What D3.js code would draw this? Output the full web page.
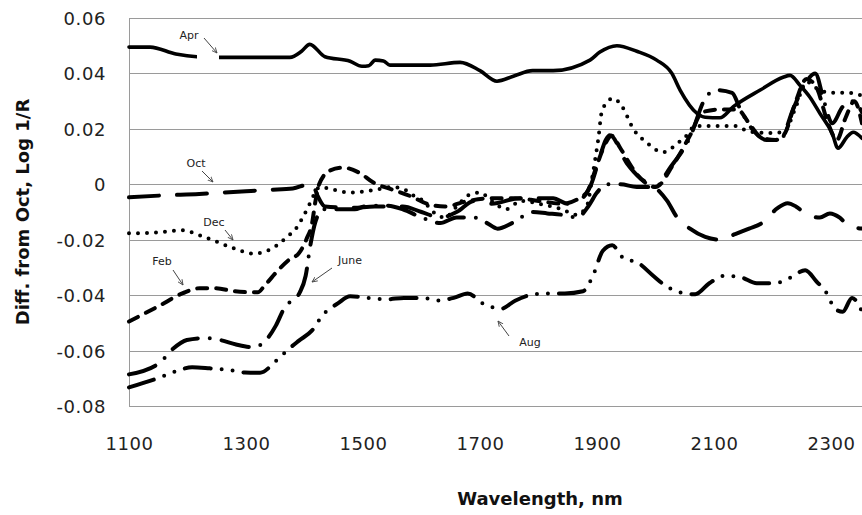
<!DOCTYPE html>
<html>
<head>
<meta charset="utf-8">
<script src="https://cdn.jsdelivr.net/npm/d3@7"></script>
<style>
  html, body { margin: 0; padding: 0; background: #fff; }
  svg { display: block; }
</style>
</head>
<body>
<svg id="chart" width="862" height="515"></svg>
<script>
// ---------------- DATA (wavelength nm, difference from Oct) ----------------
const yTicks = [-0.08, -0.06, -0.04, -0.02, 0, 0.02, 0.04, 0.06];
const xTicks = [1100, 1300, 1500, 1700, 1900, 2100, 2300];

const apr = [[1100,0.0495],[1136,0.0495],[1180,0.047],[1216,0.046],[1252,0.0458],[1300,0.0458],[1375,0.0458],[1395,0.048],[1409,0.0505],[1435,0.046],[1478,0.0444],[1498,0.0426],[1510,0.0428],[1521,0.0448],[1535,0.0445],[1546,0.043],[1615,0.043],[1666,0.044],[1700,0.041],[1729,0.0372],[1757,0.039],[1790,0.041],[1825,0.041],[1888,0.0448],[1905,0.0477],[1934,0.050],[1968,0.048],[2002,0.0448],[2028,0.040],[2042,0.034],[2071,0.0256],[2085,0.0242],[2110,0.024],[2133,0.028],[2179,0.034],[2218,0.0386],[2230,0.0393],[2247,0.0357],[2264,0.0314],[2281,0.0256],[2302,0.0184],[2312,0.013],[2327,0.017],[2338,0.0188],[2353,0.0166]];

const oct = [[1100,-0.0047],[1160,-0.004],[1220,-0.0035],[1260,-0.003],[1300,-0.0025],[1340,-0.002],[1380,-0.0015],[1400,-0.0003],[1413,0.0004],[1422,-0.004],[1435,-0.008],[1480,-0.0085],[1520,-0.008],[1568,-0.008],[1600,-0.010],[1632,-0.012],[1660,-0.010],[1690,-0.006],[1720,-0.007],[1768,-0.005],[1825,-0.005],[1850,-0.007],[1875,-0.005],[1890,0.000],[1905,0.010],[1915,0.016],[1922,0.0177],[1951,0.0076],[1975,0.002],[1999,-0.001],[2020,-0.006],[2037,-0.012],[2059,-0.016],[2085,-0.019],[2110,-0.020],[2136,-0.018],[2160,-0.016],[2184,-0.0137],[2208,-0.0087],[2226,-0.0068],[2240,-0.008],[2256,-0.0105],[2281,-0.012],[2298,-0.0105],[2315,-0.012],[2329,-0.0148],[2353,-0.016]];

const dec = [[1100,-0.0177],[1153,-0.0173],[1190,-0.0166],[1221,-0.0184],[1244,-0.0202],[1278,-0.023],[1312,-0.025],[1329,-0.0245],[1353,-0.022],[1370,-0.019],[1387,-0.0155],[1397,-0.012],[1409,-0.007],[1418,-0.003],[1426,-0.001],[1450,-0.002],[1478,-0.003],[1520,-0.002],[1551,-0.001],[1572,-0.002],[1586,-0.004],[1603,-0.006],[1620,-0.010],[1640,-0.012],[1660,-0.008],[1680,-0.004],[1700,-0.003],[1720,-0.006],[1745,-0.009],[1770,-0.006],[1800,-0.007],[1840,-0.009],[1865,-0.011],[1883,-0.0076],[1893,0.004],[1902,0.016],[1909,0.027],[1928,0.031],[1943,0.028],[1962,0.020],[1985,0.015],[2013,0.0116],[2039,0.015],[2055,0.018],[2067,0.021],[2088,0.021],[2136,0.021],[2160,0.019],[2195,0.0185],[2220,0.019],[2240,0.028],[2258,0.037],[2280,0.034],[2300,0.033],[2330,0.033],[2353,0.032]];

const feb = [[1100,-0.0495],[1153,-0.0437],[1192,-0.0393],[1221,-0.0375],[1247,-0.0375],[1281,-0.0386],[1320,-0.039],[1332,-0.0365],[1355,-0.031],[1375,-0.027],[1390,-0.025],[1404,-0.0195],[1413,-0.014],[1418,-0.007],[1425,0.000],[1444,0.005],[1466,0.006],[1495,0.004],[1517,0.0007],[1551,-0.002],[1586,-0.0047],[1609,-0.007],[1640,-0.008],[1680,-0.006],[1720,-0.005],[1760,-0.005],[1800,-0.006],[1840,-0.007],[1870,-0.005],[1885,-0.002],[1900,0.007],[1915,0.015],[1925,0.0175],[1940,0.013],[1960,0.006],[1980,0.001],[2000,-0.001],[2030,0.007],[2060,0.018],[2080,0.026],[2110,0.027],[2140,0.027],[2160,0.022],[2180,0.017],[2205,0.016],[2220,0.018],[2240,0.030],[2258,0.038],[2275,0.035],[2295,0.022],[2310,0.016],[2325,0.024],[2340,0.030],[2353,0.022]];

const june = [[1100,-0.0686],[1153,-0.0643],[1174,-0.0596],[1199,-0.0562],[1230,-0.0555],[1256,-0.0562],[1283,-0.0578],[1312,-0.0588],[1335,-0.056],[1351,-0.051],[1365,-0.0448],[1392,-0.039],[1402,-0.033],[1410,-0.022],[1418,-0.014],[1432,-0.009],[1460,-0.009],[1486,-0.009],[1503,-0.008],[1540,-0.0077],[1568,-0.009],[1600,-0.012],[1632,-0.014],[1660,-0.012],[1690,-0.012],[1712,-0.014],[1730,-0.016],[1755,-0.014],[1790,-0.010],[1815,-0.0105],[1840,-0.011],[1866,-0.012],[1885,-0.008],[1900,-0.003],[1915,0.000],[1940,0.000],[1968,-0.001],[1999,-0.001],[2025,0.006],[2059,0.017],[2085,0.031],[2103,0.034],[2131,0.033],[2145,0.027],[2165,0.020],[2190,0.016],[2213,0.016],[2235,0.027],[2255,0.036],[2273,0.040],[2288,0.030],[2302,0.022],[2320,0.028],[2338,0.030],[2353,0.026]];

const aug = [[1100,-0.0733],[1153,-0.0697],[1180,-0.0675],[1208,-0.066],[1238,-0.0664],[1270,-0.067],[1298,-0.0679],[1324,-0.068],[1350,-0.064],[1370,-0.060],[1390,-0.0565],[1413,-0.0527],[1432,-0.047],[1457,-0.043],[1478,-0.0404],[1510,-0.041],[1541,-0.0415],[1570,-0.041],[1601,-0.041],[1628,-0.0419],[1655,-0.041],[1679,-0.0394],[1705,-0.043],[1736,-0.0449],[1760,-0.042],[1790,-0.0398],[1815,-0.0394],[1845,-0.0394],[1876,-0.0386],[1893,-0.033],[1910,-0.024],[1926,-0.022],[1944,-0.0264],[1972,-0.0286],[1996,-0.033],[2020,-0.037],[2042,-0.039],[2068,-0.0397],[2092,-0.0357],[2119,-0.033],[2145,-0.0335],[2173,-0.0357],[2203,-0.0357],[2232,-0.0335],[2256,-0.031],[2275,-0.035],[2293,-0.0394],[2307,-0.045],[2320,-0.046],[2336,-0.041],[2353,-0.046]];

const seriesNames = ["Apr", "Oct", "Dec", "Feb", "June", "Aug"];
const seriesData = [apr, oct, dec, feb, june, aug];
const seriesDash = [null, "30,18", "0,9", "10,9", "28,12,0,12", "26,11,0,11,0,11"];

// ---------------- LAYOUT ----------------
const svg = d3.select("#chart");
const W = 862, H = 515;
const x = d3.scaleLinear().domain([1100, 2353]).range([129, 862]);
const y = d3.scaleLinear().domain([-0.08, 0.06]).range([406, 18]);

const tickFmt = v => Math.abs(v) < 1e-9 ? "0" : (v < 0 ? "-" : "") + Math.abs(v).toFixed(2);

// gridlines
svg.append("g").selectAll("line").data(yTicks).join("line")
  .attr("x1", 129).attr("x2", W)
  .attr("y1", d => Math.round(y(d)) + 0.5).attr("y2", d => Math.round(y(d)) + 0.5)
  .attr("stroke", "#9a9a9a").attr("stroke-width", 1);
// left axis line
svg.append("line").attr("x1", 129.5).attr("x2", 129.5)
  .attr("y1", Math.round(y(0.06))).attr("y2", Math.round(y(-0.08)) + 1)
  .attr("stroke", "#9a9a9a").attr("stroke-width", 1);

// y axis labels
const yAxis = d3.axisLeft(y).tickValues(yTicks).tickFormat(tickFmt).tickSize(0).tickPadding(0);
const gy = svg.append("g").attr("transform", "translate(106,0)").call(yAxis);
gy.select(".domain").remove();
gy.selectAll("text").attr("font-family", "DejaVu Sans").attr("font-size", 18)
  .attr("letter-spacing", "0.6px").attr("fill", "#222").attr("dy", "0.36em");

// x axis labels
const xAxis = d3.axisBottom(x).tickValues(xTicks).tickFormat(d3.format("d")).tickSize(0).tickPadding(0);
const gx = svg.append("g").attr("transform", "translate(0,437)").call(xAxis);
gx.select(".domain").remove();
gx.selectAll("text").attr("font-family", "DejaVu Sans").attr("font-size", 18)
  .attr("letter-spacing", "0.6px").attr("fill", "#222");

// axis titles
svg.append("text").attr("x", 540).attr("y", 505).attr("text-anchor", "middle")
  .attr("font-family", "DejaVu Sans").attr("font-weight", "bold").attr("font-size", 18)
  .attr("fill", "#111").text("Wavelength, nm");
svg.append("text").attr("transform", "translate(29,212) rotate(-90)").attr("text-anchor", "middle")
  .attr("font-family", "DejaVu Sans").attr("font-weight", "bold").attr("font-size", 18)
  .attr("fill", "#111").text("Diff. from Oct, Log 1/R");

// series lines
const line = d3.line().x(d => x(d[0])).y(d => y(d[1])).curve(d3.curveMonotoneX);
const clip = svg.append("clipPath").attr("id", "plotclip").append("rect")
  .attr("x", 126).attr("y", 0).attr("width", W - 126).attr("height", 420);
const gl = svg.append("g").attr("clip-path", "url(#plotclip)");
seriesData.forEach((data, i) => {
  gl.append("path").datum(data).attr("d", line)
    .attr("fill", "none").attr("stroke", "#000")
    .attr("stroke-width", i === 0 ? 3.6 : 4)
    .attr("stroke-linecap", "round").attr("stroke-linejoin", "round")
    .attr("stroke-dasharray", seriesDash[i]);
});

// labels with arrows
const defs = svg.append("defs");
defs.append("marker").attr("id", "arr").attr("viewBox", "0 0 10 10")
  .attr("refX", 9).attr("refY", 5).attr("markerWidth", 6).attr("markerHeight", 6)
  .attr("orient", "auto")
  .append("path").attr("d", "M0,1 L9,5 L0,9").attr("fill", "none").attr("stroke", "#444").attr("stroke-width", 1.4);

const labels = [
  {t: "Apr",  tx: 189, ty: 39,  a: [204, 38, 217, 53], gap: [197, 30, 22, 32]},
  {t: "Oct",  tx: 196, ty: 167, a: [202, 171, 213, 182]},
  {t: "Dec",  tx: 214, ty: 226, a: [225, 230, 233, 240]},
  {t: "Feb",  tx: 162, ty: 265, a: [173, 270, 183, 285]},
  {t: "June", tx: 350, ty: 264, a: [332, 268, 312, 282]},
  {t: "Aug",  tx: 530, ty: 346, a: [509, 336, 498, 321]}
];
labels.forEach(l => {
  if (l.gap) svg.append("rect").attr("x", l.gap[0]).attr("y", l.gap[1])
    .attr("width", l.gap[2]).attr("height", l.gap[3]).attr("fill", "#fff");
  svg.append("line").attr("x1", l.a[0]).attr("y1", l.a[1]).attr("x2", l.a[2]).attr("y2", l.a[3])
    .attr("stroke", "#444").attr("stroke-width", 1).attr("marker-end", "url(#arr)");
  svg.append("text").attr("x", l.tx).attr("y", l.ty).attr("text-anchor", "middle")
    .attr("font-family", "DejaVu Sans").attr("font-size", 11).attr("fill", "#222").text(l.t);
});
</script>
</body>
</html>
